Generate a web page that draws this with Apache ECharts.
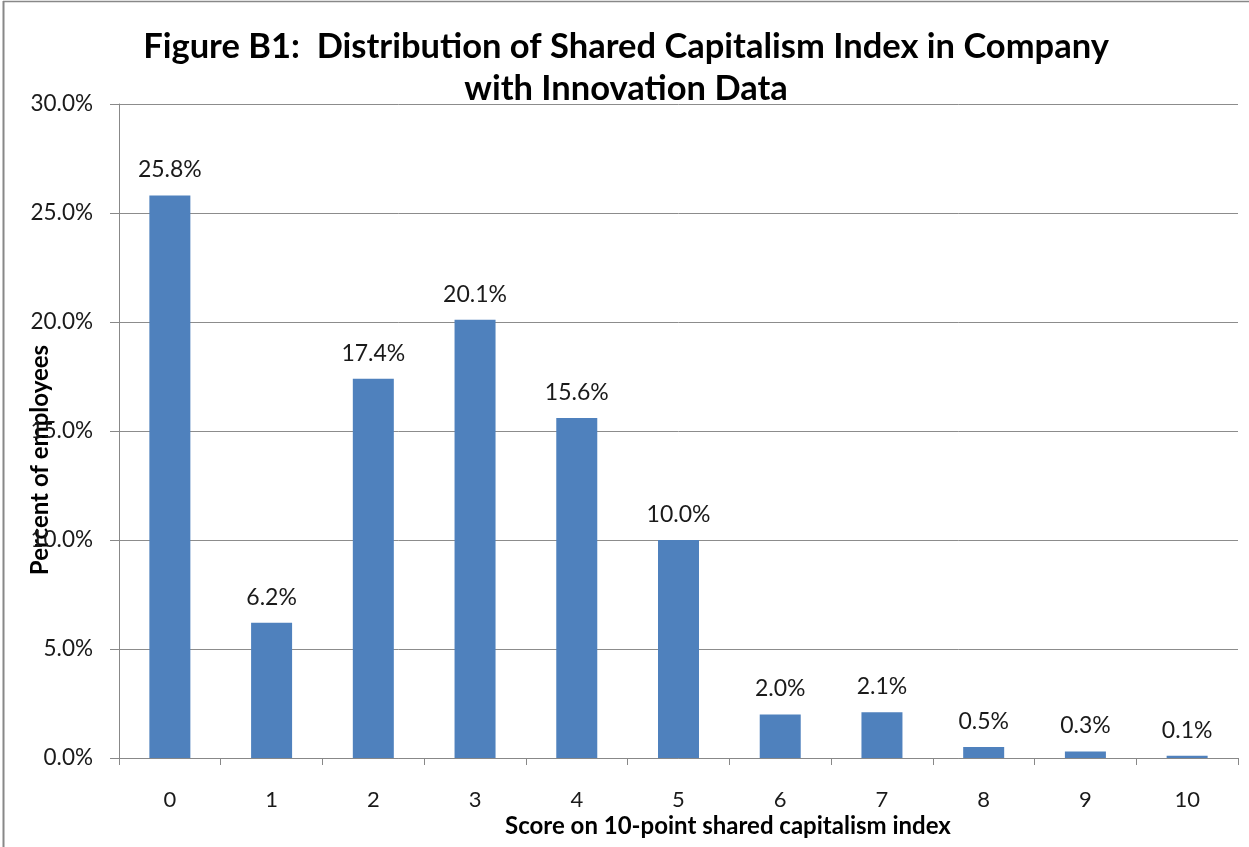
<!DOCTYPE html>
<html>
<head>
<meta charset="utf-8">
<script src="https://cdn.jsdelivr.net/npm/echarts@6/dist/echarts.min.js"></script>
<style>
html,body{margin:0;padding:0;background:#fff;}
#chart{width:1249px;height:847px;}
</style>
</head>
<body>
<div id="chart"></div>
<script>
var categories = ['0','1','2','3','4','5','6','7','8','9','10'];
var percentEmployees = [25.8, 6.2, 17.4, 20.1, 15.6, 10.0, 2.0, 2.1, 0.5, 0.3, 0.1];
var titleText = 'Figure B1:  Distribution of Shared Capitalism Index in Company\nwith Innovation Data';
var yAxisTitle = 'Percent of employees';
var xAxisTitle = 'Score on 10-point shared capitalism index';

var FONT = 'Lato, "Open Sans", sans-serif';
var chart = echarts.init(document.getElementById('chart'), null, {renderer: 'canvas'});
chart.setOption({
  animation: false,
  backgroundColor: '#fff',
  grid: {left: 119, right: 11, top: 104, bottom: 89, containLabel: false},
  xAxis: {
    type: 'category',
    data: categories,
    axisLine: {lineStyle: {color: '#888', width: 1}},
    axisTick: {show: true, alignWithLabel: false, length: 7, lineStyle: {color: '#888'}},
    axisLabel: {color: '#1a1a1a', fontSize: 22, fontFamily: FONT, margin: 31}
  },
  yAxis: {
    type: 'value',
    min: 0, max: 30, interval: 5,
    axisLine: {show: true, lineStyle: {color: '#888', width: 1}},
    axisTick: {show: true, length: 9, lineStyle: {color: '#888'}},
    splitLine: {show: true, lineStyle: {color: '#8c8c8c', width: 1}},
    axisLabel: {color: '#1a1a1a', fontSize: 22.5, fontFamily: FONT, margin: 26,
      formatter: function(v){ return v.toFixed(1) + '%'; }}
  },
  series: [{
    type: 'bar',
    data: percentEmployees,
    barWidth: 41,
    itemStyle: {color: '#4F81BD'},
    label: {show: true, position: 'top', distance: 14, color: '#1a1a1a', fontSize: 23, fontFamily: FONT,
      formatter: function(p){ return p.value.toFixed(1) + '%'; }}
  }],
  graphic: [
    {type: 'text', x: 626, y: 68, style: {text: titleText, font: 'bold 34.5px ' + FONT, fill: '#000', align: 'center', verticalAlign: 'middle', lineHeight: 42}},
    {type: 'text', x: 40, y: 460, rotation: Math.PI/2, style: {text: yAxisTitle, font: 'bold 24px ' + FONT, fill: '#000', align: 'center', verticalAlign: 'middle'}},
    {type: 'text', x: 728, y: 826, style: {text: xAxisTitle, font: 'bold 24px ' + FONT, fill: '#000', align: 'center', verticalAlign: 'middle'}},
    {type: 'line', shape: {x1: 3.5, y1: 1, x2: 3.5, y2: 847}, style: {stroke: '#888', lineWidth: 2}},
    {type: 'line', shape: {x1: 3, y1: 1.5, x2: 1249, y2: 1.5}, style: {stroke: '#888', lineWidth: 1.5}}
  ]
});
</script>
</body>
</html>
